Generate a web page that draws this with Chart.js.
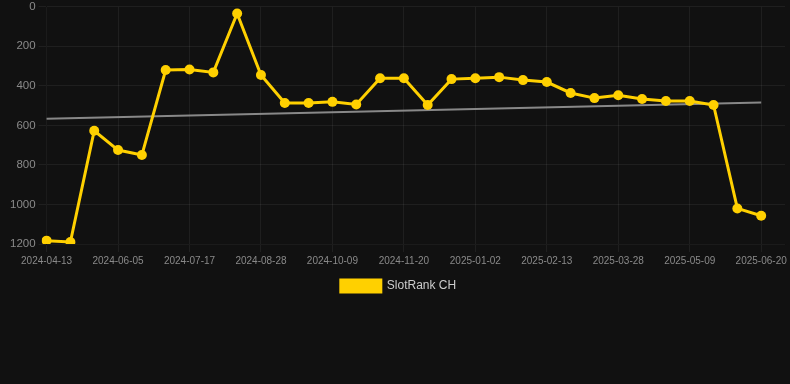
<!DOCTYPE html>
<html>
<head>
<meta charset="utf-8">
<script src="https://cdn.jsdelivr.net/npm/chart.js@4"></script>
<style>
    html, body { margin: 0; padding: 0; background: #111111; overflow: hidden; }
    #wrap { width: 790px; height: 304px; margin-top: -2px; }
</style>
</head>
<body>
<div id="wrap"><canvas id="chart"></canvas></div>
<script>
// dates (one extra category at the end, its label is never shown)
const labels = [
    '2024-04-13', '2024-05-01', '2024-05-18', '2024-06-05', '2024-06-19', '2024-07-03',
    '2024-07-17', '2024-07-31', '2024-08-14', '2024-08-28', '2024-09-11', '2024-09-25',
    '2024-10-09', '2024-10-23', '2024-11-06', '2024-11-20', '2024-12-04', '2024-12-18',
    '2025-01-02', '2025-01-16', '2025-01-30', '2025-02-13', '2025-02-27', '2025-03-14',
    '2025-03-28', '2025-04-11', '2025-04-25', '2025-05-09', '2025-05-23', '2025-06-06',
    '2025-06-20', '2025-07-04'
];
const rankValues = [
    1183, 1190, 627, 725, 750, 320, 317, 332, 34, 345, 487, 487, 481, 494, 362, 362,
    497, 366, 362, 356, 371, 381, 436, 462, 448, 467, 477, 477, 497, 1020, 1057
];
// trend line: only start and end values
const trendValues = [566].concat(new Array(29).fill(null), [484]);
const yTicks = [0, 200, 400, 600, 800, 1000, 1200];

const ctx = document.getElementById('chart').getContext('2d');

new Chart(ctx, {
    type: 'line',
    data: {
        labels: labels,
        datasets: [
            {
                label: 'SlotRank CH',
                data: rankValues,
                borderColor: '#ffd000',
                backgroundColor: '#ffd000',
                borderWidth: 3,
                pointRadius: 5,
                pointBackgroundColor: '#ffd000',
                pointBorderWidth: 0,
                tension: 0
            },
            {
                label: 'trend',
                data: trendValues,
                borderColor: 'rgba(150,150,150,0.9)',
                borderWidth: 2,
                pointRadius: 0,
                spanGaps: true
            }
        ]
    },
    options: {
        responsive: true,
        maintainAspectRatio: false,
        animation: false,
        layout: {
            padding: { left: 7, right: 0, top: 0, bottom: 0 }
        },
        plugins: {
            legend: {
                position: 'bottom',
                labels: {
                    color: '#cccccc',
                    font: { size: 12, family: 'Arial, Liberation Sans, sans-serif' },
                    boxWidth: 40,
                    filter: function (item) {
                        return item.datasetIndex === 0; // hide trend from legend
                    }
                }
            },
            tooltip: { enabled: false }
        },
        scales: {
            x: {
                grid: { color: 'rgba(255,255,255,0.06)' },
                afterBuildTicks: function (axis) {
                    axis.ticks = axis.ticks.filter((t, i) => i % 3 === 0);
                },
                ticks: {
                    autoSkip: false,
                    maxRotation: 0,
                    color: '#8a8a8a',
                    font: { size: 10, family: 'Arial, Liberation Sans, sans-serif' }
                }
            },
            y: {
                reverse: true,
                min: 0,
                max: 1200,
                afterBuildTicks: function (axis) {
                    axis.ticks = yTicks.map(v => ({ value: v }));
                },
                grid: { color: 'rgba(255,255,255,0.06)' },
                ticks: {
                    color: '#8a8a8a',
                    font: { size: 11.5, lineHeight: 1, family: 'Arial, Liberation Sans, sans-serif' },
                    callback: function (value) {
                        return String(value); // no thousands separator
                    }
                }
            }
        }
    }
});
</script>
</body>
</html>
